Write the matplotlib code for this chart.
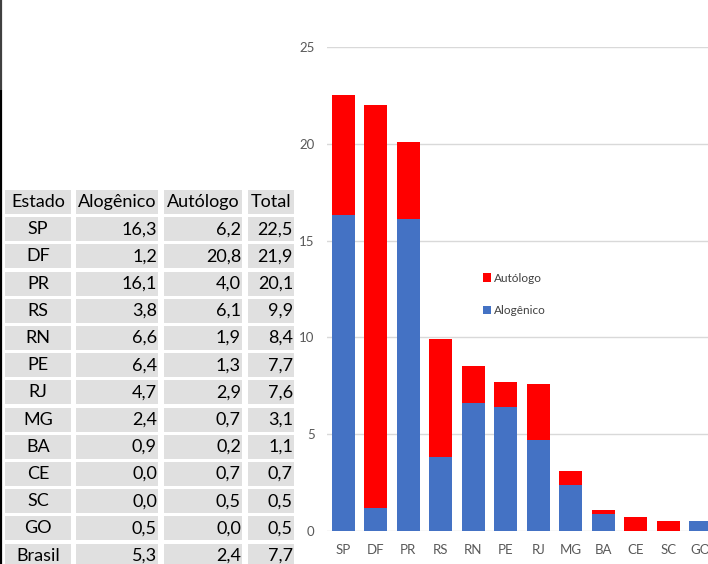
import matplotlib
matplotlib.use("Agg")
import matplotlib.pyplot as plt
from matplotlib.patches import Rectangle, Patch

plt.rcParams['font.family'] = ['Lato', 'DejaVu Sans']

# ---- data ----
estados = ["SP", "DF", "PR", "RS", "RN", "PE", "RJ", "MG", "BA", "CE", "SC", "GO"]
alogenico = [16.3, 1.2, 16.1, 3.8, 6.6, 6.4, 4.7, 2.4, 0.9, 0.0, 0.0, 0.5]
autologo = [6.2, 20.8, 4.0, 6.1, 1.9, 1.3, 2.9, 0.7, 0.2, 0.7, 0.5, 0.0]
total = [22.5, 21.9, 20.1, 9.9, 8.4, 7.7, 7.6, 3.1, 1.1, 0.7, 0.5, 0.5]
brasil_label = "Brasil"
brasil_vals = [5.3, 2.4, 7.7]
header = ["Estado", "Alogênico", "Autólogo", "Total"]
yticks = [0, 5, 10, 15, 20, 25]

W, H = 708, 564
fig = plt.figure(figsize=(W / 100, H / 100), dpi=100)

# ---- overlay for table (pixel coordinates) ----
ov = fig.add_axes([0, 0, 1, 1])
ov.set_xlim(0, W)
ov.set_ylim(H, 0)
ov.axis('off')

col_edges = [(5, 71), (76, 158), (164, 242), (248, 294)]
row_top0 = 190
row_pitch = 27.2
row_h = 24
cell_bg = '#E0E0E0'
fs_tab = 13

def fmt(v):
    return f"{v:.1f}".replace('.', ',')

rows = [header]
for i, e in enumerate(estados):
    rows.append([e, fmt(alogenico[i]), fmt(autologo[i]), fmt(total[i])])
rows.append([brasil_label] + [fmt(v) for v in brasil_vals])

for r, row in enumerate(rows):
    top = row_top0 + r * row_pitch
    yc = top + row_h / 2
    for c, txt in enumerate(row):
        x0, x1 = col_edges[c]
        ov.add_patch(Rectangle((x0, top), x1 - x0, row_h, facecolor=cell_bg,
                               edgecolor='none', zorder=1))
        if r == 0 or c == 0:
            ov.text((x0 + x1) / 2, yc, txt, ha='center', va='center',
                    fontsize=fs_tab, color='black', zorder=2)
        else:
            ov.text(x1 - 1, yc, txt, ha='right', va='center',
                    fontsize=fs_tab, color='black', zorder=2)

# left edge line
ov.plot([1, 1], [0, 90], color='#404040', lw=1.6, solid_capstyle='butt')
ov.plot([1, 1], [90, H], color='black', lw=1.6, solid_capstyle='butt')

# ---- chart ----
ax_left, ax_right = 327, 717
ax_bot, ax_top = 531, 47
ax = fig.add_axes([ax_left / W, (H - ax_bot) / H, (ax_right - ax_left) / W,
                   (ax_bot - ax_top) / H])
ax.set_facecolor('none')
x = list(range(len(estados)))
b1 = ax.bar(x, alogenico, width=0.70, color='#4472C4', zorder=3)
b2 = ax.bar(x, autologo, width=0.70, bottom=alogenico, color='#FF0000', zorder=3)
ax.set_xlim(-0.5, len(estados) - 0.5)
ax.set_ylim(0, 25)
ax.set_yticks(yticks)
ax.set_xticks(x)
ax.set_xticklabels(estados)
ax.yaxis.grid(True, color='#D9D9D9', lw=1)
ax.set_axisbelow(True)
for s in ax.spines.values():
    s.set_visible(False)
ax.tick_params(axis='both', length=0, labelsize=9.5, colors='#595959')
ax.tick_params(axis='y', pad=9)
ax.tick_params(axis='x', pad=9)

handles = [Patch(facecolor='#FF0000', label='Autólogo'),
           Patch(facecolor='#4472C4', label='Alogênico')]
leg = fig.legend(handles=handles, loc='center left',
                 bbox_to_anchor=(472 / W, (H - 294.5) / H),
                 frameon=False, fontsize=8.5, handlelength=0.7, handleheight=0.7,
                 handletextpad=0.25, labelspacing=1.85, labelcolor='#404040')

fig.savefig('out.png', dpi=100)
